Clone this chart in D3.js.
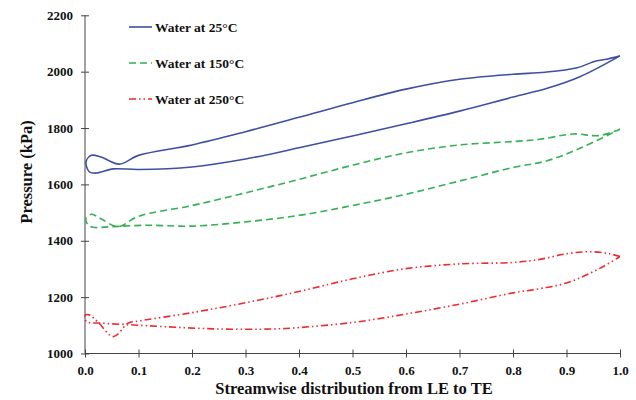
<!DOCTYPE html>
<html>
<head>
<meta charset="utf-8">
<script src="https://cdn.jsdelivr.net/npm/d3@7"></script>
<style>
  html, body { margin: 0; padding: 0; background: #fff; }
  svg text { font-family: "Liberation Serif", "Times New Roman", serif; font-weight: bold; fill: #111; }
</style>
</head>
<body>
<svg id="chart" width="636" height="400"></svg>
<script>
// Pressure loops (upper surface from TE back to LE, then lower surface LE to TE)
const water25Upper = [[1.0,2056],[0.975,2044],[0.955,2038],[0.92,2014],[0.86,1998],[0.8,1991],[0.7,1973],[0.6,1938],[0.5,1890],[0.4,1838],[0.3,1787],[0.2,1740],[0.1,1703],[0.064,1672],[0.03,1697],[0.012,1703],[0.002,1680]];
const water25Lower = [[0.008,1645],[0.02,1640],[0.053,1655],[0.1,1653],[0.2,1662],[0.3,1690],[0.4,1730],[0.5,1772],[0.6,1815],[0.7,1860],[0.8,1910],[0.864,1941],[0.925,1982],[1.0,2056]];

const water150Upper = [[1.0,1796],[0.96,1773],[0.913,1779],[0.85,1760],[0.8,1752],[0.7,1740],[0.6,1712],[0.5,1668],[0.4,1618],[0.3,1570],[0.2,1525],[0.1,1487],[0.062,1450],[0.03,1478],[0.012,1494],[0.002,1480]];
const water150Lower = [[0.005,1458],[0.015,1448],[0.05,1450],[0.115,1455],[0.2,1452],[0.3,1467],[0.4,1490],[0.5,1525],[0.6,1565],[0.7,1612],[0.8,1660],[0.864,1684],[0.925,1728],[1.0,1796]];

const water250Upper = [[1.0,1344],[0.98,1354],[0.944,1361],[0.9,1354],[0.85,1334],[0.8,1323],[0.7,1318],[0.6,1301],[0.5,1265],[0.4,1220],[0.3,1180],[0.2,1145],[0.1,1115],[0.081,1108],[0.053,1060],[0.025,1110],[0.008,1137],[0.0,1135]];
const water250Lower = [[0.003,1113],[0.028,1108],[0.084,1102],[0.15,1095],[0.25,1087],[0.35,1087],[0.4,1092],[0.5,1110],[0.6,1140],[0.7,1175],[0.8,1215],[0.85,1230],[0.9,1250],[0.963,1303],[1.0,1344]];

const seriesNames = ["Water at 25°C", "Water at 150°C", "Water at 250°C"];
const xTicks = [0, 0.1, 0.2, 0.3, 0.4, 0.5, 0.6, 0.7, 0.8, 0.9, 1.0];
const yTicks = [1000, 1200, 1400, 1600, 1800, 2000, 2200];

const svg = d3.select("#chart");
const plotLeft = 85, plotRight = 620, plotTop = 15.3, plotBottom = 353.5;

const x = d3.scaleLinear().domain([0, 1]).range([plotLeft, plotRight]);
const y = d3.scaleLinear().domain([1000, 2200]).range([plotBottom, plotTop]);

const styles = [
  { color: "#3e50a3", dash: null },
  { color: "#35b055", dash: "7,4" },
  { color: "#ec2a30", dash: "7,3,1.5,3,1.5,3" }
];
const loops = [
  water25Upper.concat(water25Lower),
  water150Upper.concat(water150Lower),
  water250Upper.concat(water250Lower)
];

// Axes
const xAxis = svg.append("g")
  .attr("transform", `translate(0,${plotBottom})`)
  .call(d3.axisBottom(x).tickValues(xTicks).tickFormat(d3.format(".1f")).tickSize(4).tickPadding(8));
const yAxis = svg.append("g")
  .attr("transform", `translate(${plotLeft},0)`)
  .call(d3.axisLeft(y).tickValues(yTicks).tickFormat(d3.format("d")).tickSize(4).tickPadding(8));

[xAxis, yAxis].forEach(g => {
  g.select(".domain").attr("stroke", "#444").attr("stroke-width", 1);
  g.selectAll(".tick line").attr("stroke", "#444");
  g.selectAll(".tick text").style("font-size", "13px")
    .style("font-family", "'Liberation Serif', serif").style("font-weight", "bold").attr("fill", "#111");
});
xAxis.selectAll(".tick line").attr("y1", -4).attr("y2", 4);
xAxis.select(".domain").attr("d", `M${plotLeft},0H${plotRight}`);
yAxis.selectAll(".tick line").attr("x1", -4).attr("x2", 4);
yAxis.select(".domain").attr("d", `M0,${plotBottom}V${plotTop}`);

// Curves
const line = d3.line()
  .x(d => x(d[0]))
  .y(d => y(d[1]))
  .curve(d3.curveCatmullRom.alpha(0.5));

loops.forEach((pts, i) => {
  svg.append("path")
    .attr("d", line(pts))
    .attr("fill", "none")
    .attr("stroke", styles[i].color)
    .attr("stroke-width", 1.6)
    .attr("stroke-dasharray", styles[i].dash);
});

// Legend
const legend = svg.append("g");
seriesNames.forEach((name, i) => {
  const ly = 27 + i * 36;
  legend.append("line")
    .attr("x1", 129).attr("x2", 152).attr("y1", ly).attr("y2", ly)
    .attr("stroke", styles[i].color).attr("stroke-width", 1.6)
    .attr("stroke-dasharray", styles[i].dash);
  legend.append("text")
    .attr("x", 155).attr("y", ly + 4.5)
    .style("font-size", "13.5px")
    .text(name);
});

// Axis titles
svg.append("text")
  .attr("x", 354).attr("y", 394)
  .attr("text-anchor", "middle")
  .style("font-size", "16.5px")
  .text("Streamwise distribution from LE to TE");

svg.append("text")
  .attr("transform", "translate(32,172) rotate(-90)")
  .attr("text-anchor", "middle")
  .style("font-size", "16.5px")
  .text("Pressure (kPa)");
</script>
</body>
</html>
